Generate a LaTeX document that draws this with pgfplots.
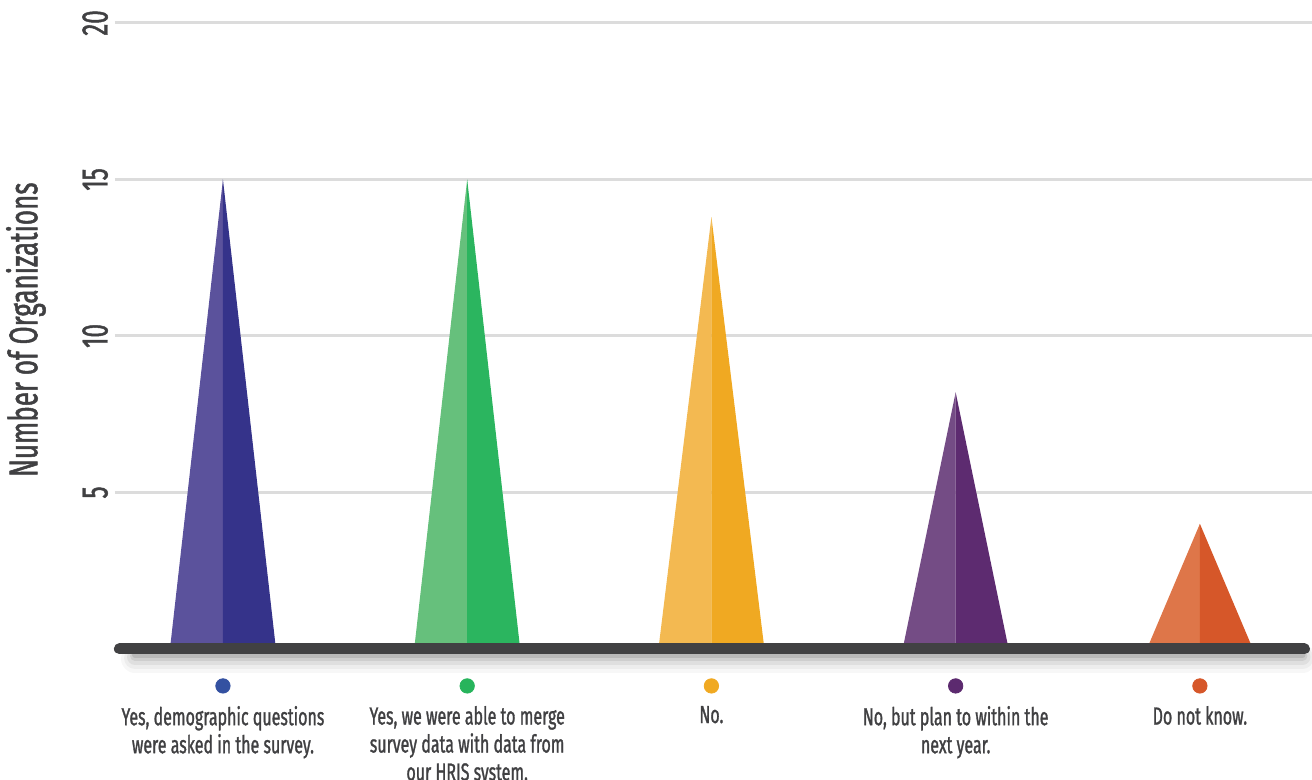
\documentclass[border=0pt]{standalone}
\usepackage{fontspec}
\setmainfont{Fira Sans}[FakeStretch=0.65, FakeBold=1.2, UprightFeatures={FakeBold=1.2}]
\usepackage{pgfplots}
\pgfplotsset{compat=1.18}
\definecolor{blueL}{HTML}{5B529C}\definecolor{blueR}{HTML}{35338A}\definecolor{blueD}{HTML}{3451A1}
\definecolor{greenL}{HTML}{66C07C}\definecolor{greenR}{HTML}{2BB55F}\definecolor{greenD}{HTML}{27B45C}
\definecolor{yelL}{HTML}{F3B951}\definecolor{yelR}{HTML}{F0A922}\definecolor{yelD}{HTML}{F0A922}
\definecolor{purL}{HTML}{744C85}\definecolor{purR}{HTML}{5D2B70}\definecolor{purD}{HTML}{5C2A6F}
\definecolor{oraL}{HTML}{DE7649}\definecolor{oraR}{HTML}{D65729}\definecolor{oraD}{HTML}{D6572A}
\definecolor{basec}{HTML}{414143}
\definecolor{gridc}{HTML}{DCDCDC}
\definecolor{txt}{HTML}{404042}
\begin{document}
\begin{tikzpicture}
\path[use as bounding box] (0,0) rectangle (656pt,390pt);
\begin{axis}[
  at={(57.5pt,65.5pt)}, anchor=south west,
  scale only axis, width=598.5pt, height=313pt,
  xmin=-0.442, xmax=4.459, ymin=0, ymax=20,
  axis line style={draw=none},
  clip=false,
  ytick={5,10,15,20},
  ymajorgrids, grid style={gridc, line width=1.5pt},
  xtick={0,1,2,3,4},
  xticklabels={{Yes, demographic questions\\were asked in the survey.},
               {Yes, we were able to merge\\survey data with data from\\our HRIS system.},
               {No.},
               {No, but plan to within the\\next year.},
               {Do not know.}},
  xticklabel style={align=center, font=\fontsize{12.3}{14}\selectfont, text=txt, yshift=-25pt},
  yticklabel style={rotate=90, anchor=south, font=\fontsize{18.5}{20}\selectfont, text=txt},
  /pgf/number format/assume math mode=true,
  major tick length=0pt,
  tick style={draw=none},
  ylabel={Number of Organizations},
  ylabel style={at={(axis description cs:-0.0744,0.51)}, anchor=center, rotate=0, font=\fontsize{20}{22}\selectfont, text=txt},
]
% triangles
\addplot[fill=blueL, draw=none] coordinates {(-0.217,0) (0,15) (0,0)} -- cycle;
\addplot[fill=blueR, draw=none] coordinates {(0,0) (0,15) (0.217,0)} -- cycle;
\addplot[fill=greenL, draw=none] coordinates {(0.783,0) (1,15) (1,0)} -- cycle;
\addplot[fill=greenR, draw=none] coordinates {(1,0) (1,15) (1.217,0)} -- cycle;
\addplot[fill=yelL, draw=none] coordinates {(1.783,0) (2,13.8) (2,0)} -- cycle;
\addplot[fill=yelR, draw=none] coordinates {(2,0) (2,13.8) (2.217,0)} -- cycle;
\addplot[fill=purL, draw=none] coordinates {(2.783,0) (3,8.2) (3,0)} -- cycle;
\addplot[fill=purR, draw=none] coordinates {(3,0) (3,8.2) (3.217,0)} -- cycle;
\addplot[fill=oraL, draw=none] coordinates {(3.783,0) (4,4) (4,0)} -- cycle;
\addplot[fill=oraR, draw=none] coordinates {(4,0) (4,4) (4.217,0)} -- cycle;
% shadow
\addplot[black, opacity=0.03, line width=14pt, yshift=-5pt, line cap=round] coordinates {(-0.36,0) (4.42,0)};
\addplot[black, opacity=0.04, line width=11pt, yshift=-4.5pt, line cap=round] coordinates {(-0.36,0) (4.42,0)};
\addplot[black, opacity=0.06, line width=8pt, yshift=-4pt, line cap=round] coordinates {(-0.36,0) (4.42,0)};
\addplot[black, opacity=0.08, line width=5pt, yshift=-3.5pt, line cap=round] coordinates {(-0.36,0) (4.42,0)};
\addplot[black, opacity=0.10, line width=3pt, yshift=-3pt, line cap=round] coordinates {(-0.36,0) (4.42,0)};
% base line
\addplot[basec, line width=5.5pt, line cap=round] coordinates {(-0.424,0) (4.428,0)};
% dots
\addplot[only marks, mark=*, mark size=3.6pt, blueD, mark options={draw=none}] coordinates {(0,-1.18)};
\addplot[only marks, mark=*, mark size=3.6pt, greenD, mark options={draw=none}] coordinates {(1,-1.18)};
\addplot[only marks, mark=*, mark size=3.6pt, yelD, mark options={draw=none}] coordinates {(2,-1.18)};
\addplot[only marks, mark=*, mark size=3.6pt, purD, mark options={draw=none}] coordinates {(3,-1.18)};
\addplot[only marks, mark=*, mark size=3.6pt, oraD, mark options={draw=none}] coordinates {(4,-1.18)};
\end{axis}
\end{tikzpicture}
\end{document}
